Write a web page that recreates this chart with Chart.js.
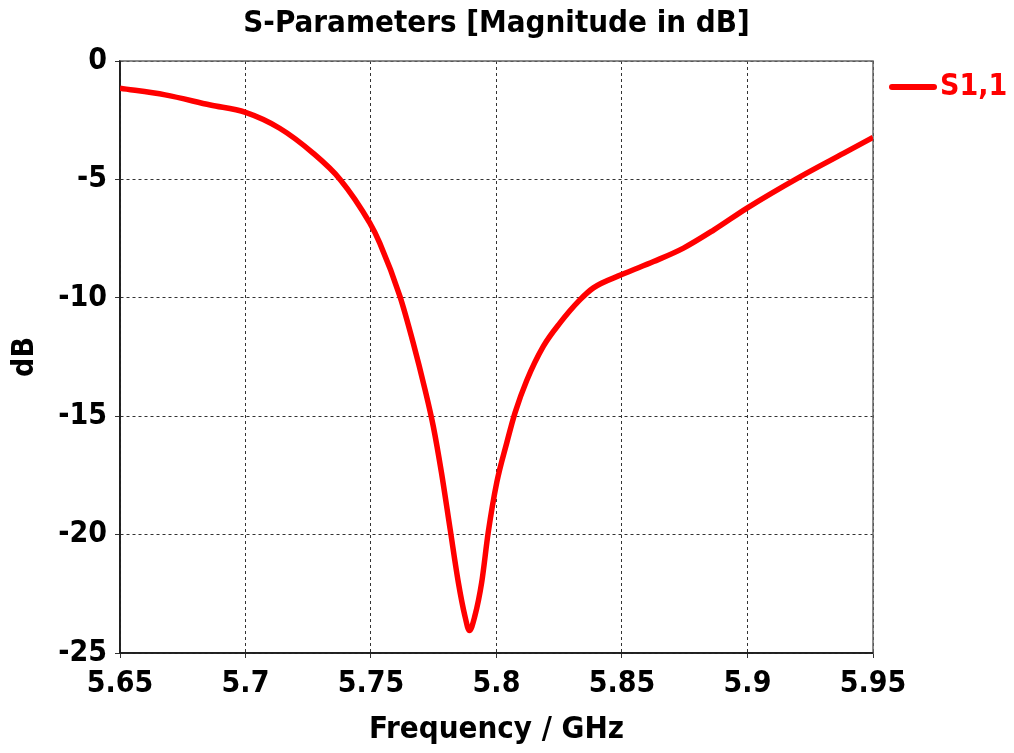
<!DOCTYPE html>
<html>
<head>
<meta charset="utf-8">
<title>S-Parameters</title>
<script src="https://cdn.jsdelivr.net/npm/chart.js@4.4.1/dist/chart.umd.min.js"></script>
<style>
  html, body { margin: 0; padding: 0; background: #ffffff; }
  #wrap { width: 1014px; height: 753px; }
</style>
</head>
<body>
<div id="wrap"><canvas id="chart" width="1014" height="753"></canvas></div>
<script>
// Frequency sweep (GHz) and |S1,1| in dB
const freqGHz = [
  5.650, 5.668, 5.686, 5.700, 5.7136, 5.7269, 5.7376, 5.7495, 5.7535,
  5.7615, 5.7668, 5.7715, 5.7748, 5.7781, 5.7815, 5.7848, 5.7874, 5.7892, 5.7914,
  5.7941, 5.7967, 5.8001, 5.8041, 5.8074, 5.8120, 5.8187, 5.8253, 5.8333, 5.8386,
  5.8499, 5.8626, 5.8745, 5.8865, 5.8998, 5.9211, 5.9384, 5.950
];
const s11dB = [
  -1.15, -1.43, -1.86, -2.17, -2.84, -3.89, -4.99, -6.84, -7.69,
  -9.93, -11.90, -13.87, -15.42, -17.40, -19.75, -22.02, -23.43, -24.05, -23.43,
  -22.02, -19.91, -17.80, -16.12, -14.85, -13.50, -12.04, -11.06, -10.08, -9.58,
  -9.02, -8.47, -7.90, -7.14, -6.21, -4.88, -3.89, -3.23
];
const xTickValues = [5.65, 5.7, 5.75, 5.8, 5.85, 5.9, 5.95];
const yTickValues = [0, -5, -10, -15, -20, -25];

const points = freqGHz.map((f, i) => ({ x: f, y: s11dB[i] }));

const FONT = "'DejaVu Sans Condensed', 'DejaVu Sans', sans-serif";
Chart.defaults.font.family = FONT;
Chart.defaults.color = '#000000';

// Solid frame around the plotting area
const frame = {
  id: 'frame',
  beforeDatasetsDraw(chart) {
    const a = chart.chartArea, ctx = chart.ctx;
    ctx.save();
    ctx.strokeStyle = '#666666';
    ctx.lineWidth = 1.5;
    ctx.strokeRect(a.left, a.top, a.right - a.left, a.bottom - a.top);
    ctx.strokeStyle = '#111111';
    ctx.beginPath();
    ctx.moveTo(a.left, a.top);
    ctx.lineTo(a.left, a.bottom);
    ctx.lineTo(a.right, a.bottom);
    ctx.stroke();
    ctx.restore();
  }
};

// Legend entry to the right of the plot: a short line sample and the series name
const sideLegend = {
  id: 'sideLegend',
  afterDraw(chart) {
    const a = chart.chartArea, ctx = chart.ctx;
    const ds = chart.data.datasets[0];
    const x0 = a.right + 17, y0 = a.top + 26;
    ctx.save();
    ctx.strokeStyle = ds.borderColor;
    ctx.lineWidth = 6;
    ctx.lineCap = 'round';
    ctx.beginPath();
    ctx.moveTo(x0 + 2, y0);
    ctx.lineTo(x0 + 44, y0);
    ctx.stroke();
    ctx.fillStyle = ds.borderColor;
    ctx.font = 'bold 30px ' + FONT;
    ctx.textBaseline = 'middle';
    ctx.textAlign = 'left';
    ctx.fillText(ds.label, x0 + 50, y0);
    ctx.restore();
  }
};

new Chart(document.getElementById('chart'), {
  type: 'line',
  data: {
    datasets: [{
      label: 'S1,1',
      data: points,
      borderColor: '#ff0000',
      backgroundColor: '#ff0000',
      borderWidth: 5.5,
      pointRadius: 0,
      cubicInterpolationMode: 'monotone',
      fill: false
    }]
  },
  options: {
    responsive: false,
    animation: false,
    layout: { padding: { top: 0, left: 0, right: 141, bottom: 0 } },
    plugins: {
      title: {
        display: true,
        fullSize: false,
        text: 'S-Parameters [Magnitude in dB]',
        font: { size: 31, weight: 'bold', lineHeight: 1.2 },
        color: '#000000',
        padding: { top: 5, bottom: 18.8 }
      },
      legend: { display: false },
      tooltip: { enabled: false }
    },
    scales: {
      x: {
        type: 'linear',
        min: 5.65,
        max: 5.95,
        afterBuildTicks: s => { s.ticks = xTickValues.map(v => ({ value: v })); },
        afterFit: s => { s.height = 100; },
        ticks: {
          font: { size: 30, weight: 'bold' },
          color: '#000000',
          padding: 8,
          maxRotation: 0,
          autoSkip: false,
          callback: v => String(Math.round(v * 100) / 100)
        },
        grid: { color: '#333333', lineWidth: 1, tickLength: 5, tickColor: '#333333' },
        border: { display: true, color: '#111111', width: 1.5, dash: [3, 3] },
        title: {
          display: true,
          text: 'Frequency / GHz',
          font: { size: 31, weight: 'bold', lineHeight: 1.2 },
          color: '#000000',
          padding: { top: 0, bottom: 4 }
        }
      },
      y: {
        type: 'linear',
        min: -25,
        max: 0,
        afterBuildTicks: s => { s.ticks = yTickValues.map(v => ({ value: v })); },
        afterFit: s => { s.width = 120; },
        ticks: {
          font: { size: 30, weight: 'bold' },
          color: '#000000',
          padding: 8,
          autoSkip: false
        },
        grid: { color: '#333333', lineWidth: 1, tickLength: 5, tickColor: '#333333' },
        border: { display: true, color: '#111111', width: 1.5, dash: [3, 3] },
        title: {
          display: true,
          text: 'dB',
          font: { size: 30, weight: 'bold', lineHeight: 1.2 },
          color: '#000000',
          padding: { top: 7, bottom: 0 }
        }
      }
    }
  },
  plugins: [frame, sideLegend]
});
</script>
</body>
</html>
